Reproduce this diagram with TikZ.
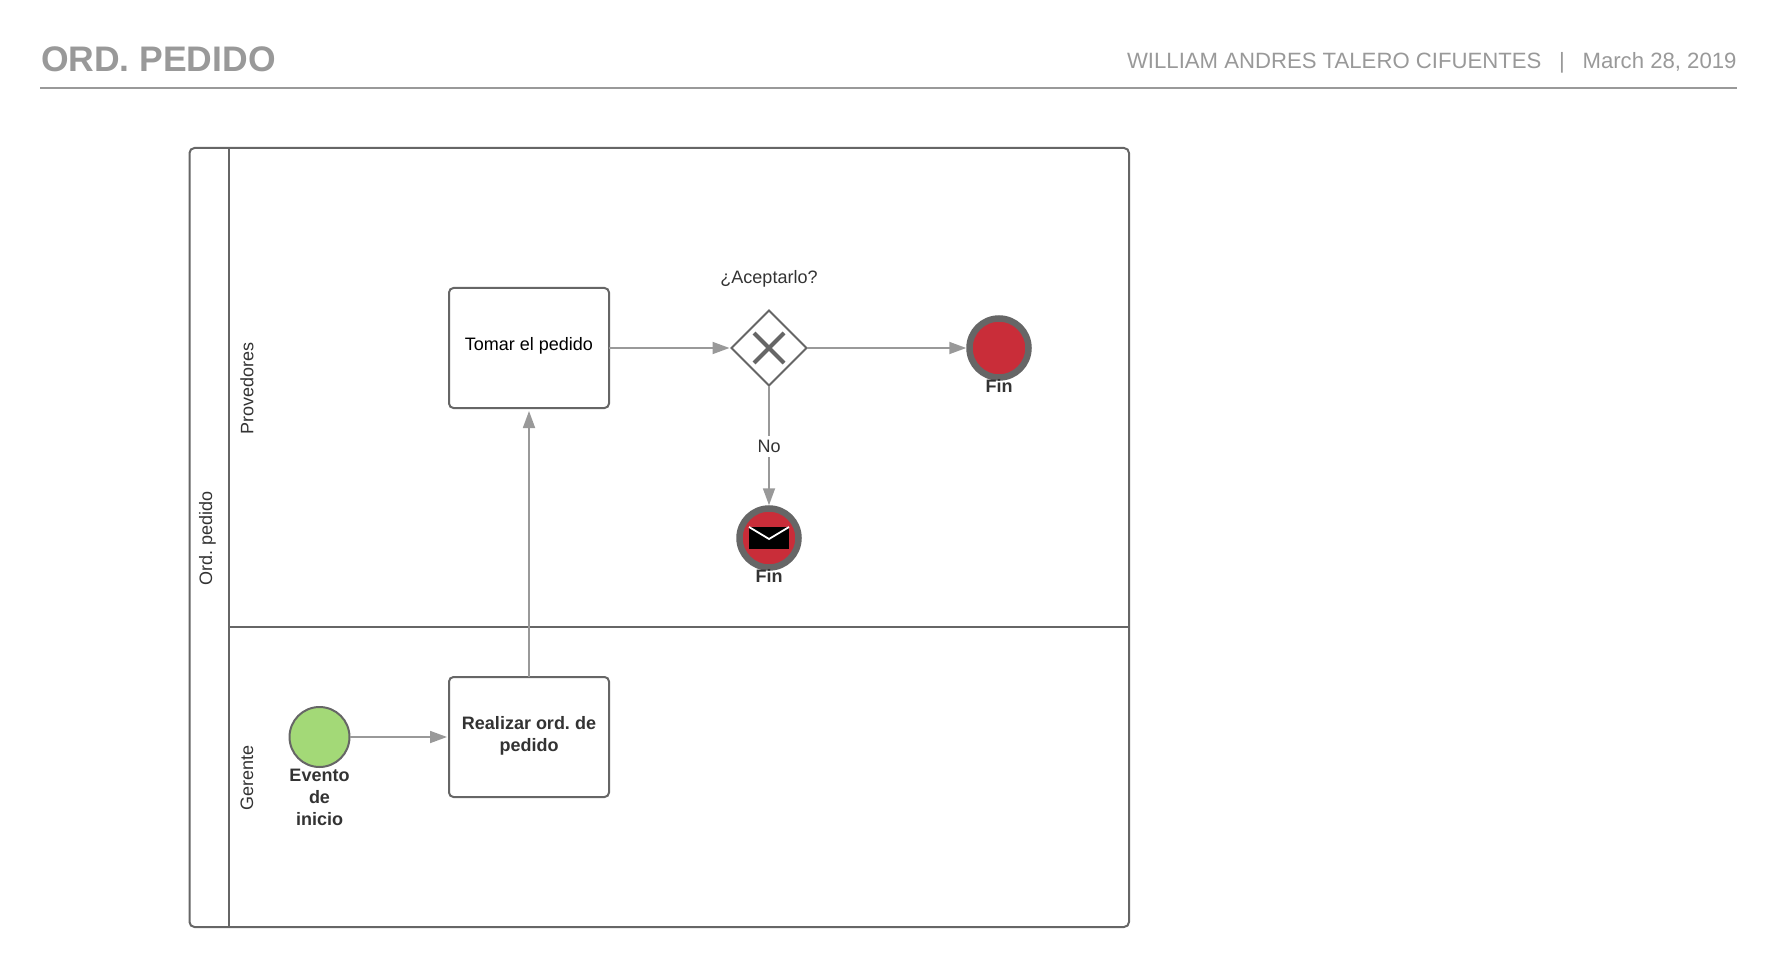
\documentclass[tikz,border=0pt]{standalone}
\usepackage{fontspec}
\setmainfont{Liberation Sans}
\usetikzlibrary{arrows.meta,shapes.geometric}
\definecolor{linegray}{HTML}{666666}
\definecolor{flowgray}{HTML}{999999}
\definecolor{endred}{HTML}{C92D39}
\definecolor{startgreen}{HTML}{A3D977}
\definecolor{txt}{HTML}{333333}
\frenchspacing
\tikzset{
  every node/.style={outer sep=0pt,inner sep=0pt},
  flow/.style={draw=flowgray,line width=1.8pt,-{Triangle[length=17pt,width=12pt,fill=flowgray]},shorten >=2pt},
  taskbox/.style={draw=linegray,line width=2pt,rounded corners=4.5pt,fill=white,minimum width=160pt,minimum height=120pt,align=center},
  laneline/.style={draw=linegray,line width=2pt},
  endevent/.style={circle,draw=linegray,line width=6.5pt,fill=endred,minimum size=59pt,outer sep=3.25pt},
  startevent/.style={circle,draw=linegray,line width=2pt,fill=startgreen,minimum size=60pt},
  base/.style={font=\fontsize{18}{21.7}\selectfont,text=txt,align=center},
  strong/.style={font=\fontsize{18}{21.7}\selectfont\bfseries,text=txt,align=center},
  vert/.style={font=\fontsize{18}{21.7}\selectfont,text=txt,rotate=90}
}
\begin{document}
\begin{tikzpicture}[x=1pt,y=-1pt]
\useasboundingbox (0,0) rectangle (1777,968);
% header
\node[anchor=west,font=\fontsize{35.5}{38}\selectfont\bfseries,text=flowgray] (title) at (41,59.5) {ORD. PEDIDO};
\node[anchor=east,font=\fontsize{22.15}{26}\selectfont,text=flowgray] (author) at (1736.5,62.5) {WILLIAM ANDRES TALERO CIFUENTES\hspace{0.8em}|\hspace{0.8em}March 28, 2019};
\coordinate (ruleL) at (40,88);
\coordinate (ruleR) at (1736.5,88);
\draw[draw=flowgray,line width=2pt] (ruleL) -- (ruleR);
% pool
\coordinate (poolTL) at (189.5,148);
\coordinate (poolBR) at (1129,927);
\draw[laneline,rounded corners=5pt] (poolTL) rectangle (poolBR);
\coordinate (laneT) at (228.5,148);
\coordinate (laneB) at (228.5,927);
\coordinate (divL) at (228.5,627);
\coordinate (divR) at (1129,627);
\draw[laneline] (laneT) -- (laneB);
\draw[laneline] (divL) -- (divR);
\node[vert] (lpool) at (207.5,538) {Ord. pedido};
\node[vert] (lprov) at (247,388.5) {Provedores};
\node[vert] (lger) at (247,777.5) {Gerente};
% nodes
\node[taskbox] (tomar) at (529,348) {};
\node[font=\fontsize{18}{21.7}\selectfont,text=black] (tomarT) at (529,345.5) {Tomar el pedido};
\node[taskbox] (realizar) at (529,737) {};
\node[strong] (realizarT) at (529,735.5) {Realizar ord. de\\pedido};
\node[startevent] (start) at (319.5,737) {};
\node[strong] (startT) at (319.5,797.5) {Evento\\de\\inicio};
\node[diamond,draw=linegray,line width=1.8pt,fill=white,minimum width=75pt,minimum height=75pt,aspect=1] (gate) at (769,348) {};
\draw[draw=linegray,line width=4pt] ([xshift=-15pt,yshift=-15pt]gate.center) -- ([xshift=15pt,yshift=15pt]gate.center);
\draw[draw=linegray,line width=4pt] ([xshift=15pt,yshift=-15pt]gate.center) -- ([xshift=-15pt,yshift=15pt]gate.center);
\node[base] (gateT) at (769,279) {¿Aceptarlo?};
\node[endevent] (endA) at (999,348) {};
\node[strong] (endAT) at (999,386) {Fin};
\node[endevent] (endB) at (769,538) {};
\node[strong] (endBT) at (769,576) {Fin};
% envelope
\fill[black] (749,527) rectangle (789,548.5);
\draw[white,line width=1.8pt] (749,527) -- (769,539) -- (789,527);
% connectors
\draw[flow] (start) -- (realizar);
\draw[flow,shorten >=3pt] (realizar) -- (tomar);
\draw[flow] (tomar) -- (gate);
\draw[flow,shorten >=0pt] (gate) -- (endA);
\draw[flow,shorten >=0pt] (gate) -- node[base,fill=white,inner ysep=4pt,inner xsep=2pt,pos=0.5,yshift=-1pt] (no) {No} (endB);
\end{tikzpicture}
\end{document}
